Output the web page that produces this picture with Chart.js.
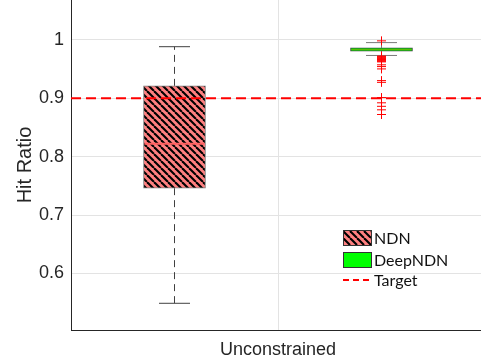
<!DOCTYPE html>
<html>
<head>
<meta charset="utf-8">
<script src="https://cdn.jsdelivr.net/npm/chart.js@4.4.1/dist/chart.umd.min.js"></script>
<style>
  html, body { margin: 0; padding: 0; background: #fff; overflow: hidden; }
  #chart { display: block; }
</style>
</head>
<body>
<canvas id="chart" width="490" height="364"></canvas>
<script>
// box plot data
var categories = ['Unconstrained'];
var groups = ['NDN', 'DeepNDN'];
var groupPos = [0.5, 1.5];
var q1 = [0.746, 0.9805];
var median = [0.822, 0.983];
var q3 = [0.921, 0.986];
var whiskerLow = [0.549, 0.973];
var whiskerHigh = [0.988, 0.995];
var deepOutliers = [0.998, 0.972, 0.971, 0.970, 0.969, 0.968, 0.967, 0.966, 0.965, 0.964,
                    0.963, 0.962, 0.957, 0.954, 0.950, 0.930, 0.927, 0.901, 0.892, 0.886,
                    0.880, 0.872];
var target = 0.9;
var yTicks = [0.6, 0.7, 0.8, 0.9, 1];

var axisColor = '#262626';
var gridColor = '#e3e3e3';

// diagonal hatch for the NDN box
function makeHatch() {
    var s = 7;
    var c = document.createElement('canvas');
    c.width = s; c.height = s;
    var g = c.getContext('2d');
    g.fillStyle = '#ff8080';
    g.fillRect(0, 0, s, s);
    g.strokeStyle = '#000';
    g.lineWidth = 2.1;
    for (var k = -1; k <= 1; k++) {
        g.beginPath();
        g.moveTo(k * s, 0);
        g.lineTo(k * s + s, s);
        g.stroke();
    }
    return g.createPattern(c, 'repeat');
}
var hatch = makeHatch();

var boxFill = [hatch, '#00ff00'];
var boxEdge = ['#7a7a7a', '#404040'];
var medianColor = ['#ff6060', '#66b800'];
var medianWidth = [2, 1];
var whiskerDash = [[7, 5], []];
var whiskerColor = ['#404040', '#7a7a7a'];

var datasets = [];

groups.forEach(function (name, i) {
    var x = groupPos[i];
    datasets.push({
        type: 'bar',
        label: name,
        data: [{ x: x, y: [q1[i], q3[i]] }],
        backgroundColor: boxFill[i],
        borderColor: boxEdge[i],
        borderWidth: 1,
        borderSkipped: false,
        barThickness: 62,
        grouped: false,
        order: 5
    });
    // whiskers
    datasets.push({
        type: 'line',
        data: [{ x: x, y: q3[i] }, { x: x, y: whiskerHigh[i] }],
        borderColor: whiskerColor[i],
        borderWidth: 1,
        borderDash: whiskerDash[i],
        pointRadius: 0,
        order: 6
    });
    datasets.push({
        type: 'line',
        data: [{ x: x, y: q1[i] }, { x: x, y: whiskerLow[i] }],
        borderColor: whiskerColor[i],
        borderWidth: 1,
        borderDash: whiskerDash[i],
        pointRadius: 0,
        order: 6
    });
    // caps
    datasets.push({
        type: 'scatter',
        data: [{ x: x, y: whiskerHigh[i] }, { x: x, y: whiskerLow[i] }],
        pointStyle: 'line',
        pointRadius: 15.5,
        pointBorderColor: whiskerColor[i],
        pointBorderWidth: 1,
        order: 4
    });
    // median
    datasets.push({
        type: 'scatter',
        data: [{ x: x, y: median[i] }],
        pointStyle: 'line',
        pointRadius: 30,
        pointBorderColor: medianColor[i],
        pointBorderWidth: medianWidth[i],
        order: 3
    });
});

// DeepNDN outliers
datasets.push({
    type: 'scatter',
    data: deepOutliers.map(function (v) { return { x: groupPos[1], y: v }; }),
    pointStyle: 'cross',
    pointRadius: 4.5,
    pointBorderColor: '#ff0000',
    pointBorderWidth: 1,
    order: 2
});

// target line
datasets.push({
    type: 'line',
    data: [{ x: 0, y: target }, { x: 2, y: target }],
    borderColor: '#ff0000',
    borderWidth: 2,
    borderDash: [10, 5],
    pointRadius: 0,
    order: 1
});

var legendPlugin = {
    id: 'boxLegend',
    afterDraw: function (chart) {
        var ctx = chart.ctx;
        var x0 = 343, w = 28;
        ctx.save();
        ctx.fillStyle = hatch;
        ctx.fillRect(x0, 230, w, 15);
        ctx.strokeStyle = '#333';
        ctx.lineWidth = 1;
        ctx.strokeRect(x0 + 0.5, 230.5, w, 15);
        ctx.fillStyle = '#00ff00';
        ctx.fillRect(x0, 252, w, 15);
        ctx.strokeRect(x0 + 0.5, 252.5, w, 15);
        ctx.strokeStyle = '#ff0000';
        ctx.lineWidth = 2;
        ctx.setLineDash([6, 4]);
        ctx.beginPath();
        ctx.moveTo(x0, 280);
        ctx.lineTo(x0 + w, 280);
        ctx.stroke();
        ctx.setLineDash([]);
        ctx.fillStyle = '#111';
        ctx.font = '16px Lato';
        ctx.textBaseline = 'middle';
        ctx.fillText('NDN', 374, 239);
        ctx.fillText('DeepNDN', 374, 261);
        ctx.fillText('Target', 374, 281);
        ctx.restore();
    }
};

function noPad(scale) {
    scale.paddingTop = 0;
    scale.paddingBottom = 0;
    scale.paddingLeft = 0;
    scale.paddingRight = 0;
}

new Chart(document.getElementById('chart').getContext('2d'), {
    type: 'bar',
    data: { datasets: datasets },
    plugins: [legendPlugin],
    options: {
        responsive: false,
        animation: false,
        layout: { autoPadding: false, padding: { left: 0, right: 5, top: 0, bottom: 0 } },
        plugins: { legend: { display: false }, tooltip: { enabled: false } },
        scales: {
            x: {
                type: 'linear',
                min: 0,
                max: 2,
                offset: false,
                afterBuildTicks: function (scale) {
                    scale.ticks = categories.map(function (c, i) { return { value: i + 1 }; });
                },
                afterFit: function (scale) { scale.height = 34; noPad(scale); },
                ticks: {
                    padding: 9,
                    color: axisColor,
                    font: { family: 'Liberation Sans, Arial', size: 18 },
                    callback: function (v) { return categories[v - 1] || ''; }
                },
                grid: { color: gridColor, drawTicks: false, offset: false },
                border: { display: true, color: axisColor, width: 1 }
            },
            y: {
                type: 'linear',
                min: 0.5033,
                max: 1.0679,
                afterBuildTicks: function (scale) {
                    scale.ticks = yTicks.map(function (v) { return { value: v }; });
                },
                afterFit: function (scale) { scale.width = 71; noPad(scale); },
                ticks: {
                    padding: 7,
                    color: axisColor,
                    font: { family: 'Liberation Sans, Arial', size: 18 },
                    callback: function (v) { return String(v); }
                },
                grid: { color: gridColor, drawTicks: false },
                border: { display: true, color: axisColor, width: 1 },
                title: {
                    display: true,
                    text: 'Hit Ratio',
                    color: axisColor,
                    font: { family: 'Liberation Sans, Arial', size: 20 },
                    padding: { top: 13, bottom: 0 }
                }
            }
        }
    }
});
</script>
</body>
</html>
